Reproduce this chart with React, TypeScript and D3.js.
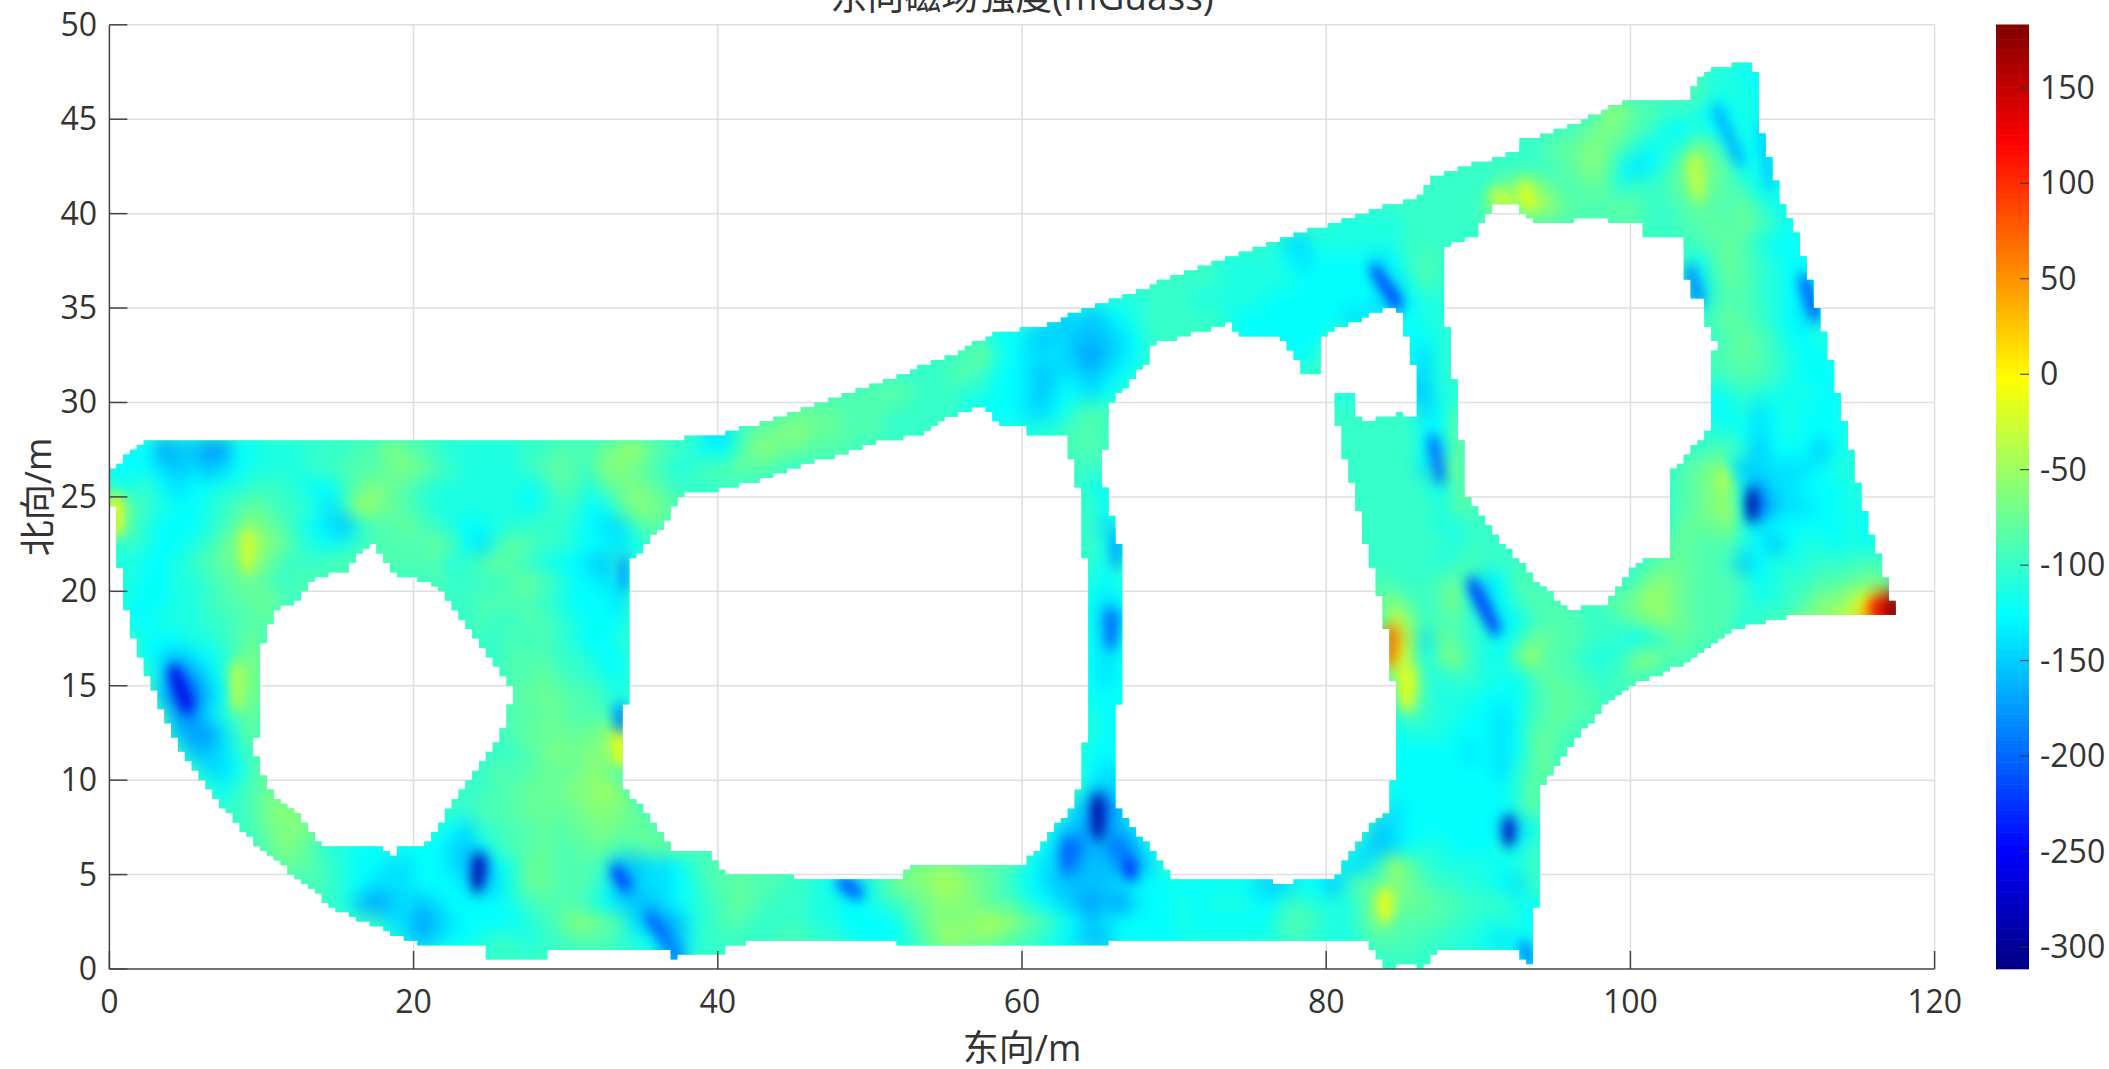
import React from "react";
import * as d3 from "d3";

const xTicks = [0, 20, 40, 60, 80, 100, 120];
const yTicks = [0, 5, 10, 15, 20, 25, 30, 35, 40, 45, 50];
const cTicks = [150, 100, 50, 0, -50, -100, -150, -200, -250, -300];
const cDomain = [-311.5, 183];
const title = "东向磁场强度(mGuass)";
const xLabel = "东向/m";
const yLabel = "北向/m";

// level letters used by the rows below, in mGauss
const levels: Record<string, number> = {
  a: -300, b: -270, c: -235, d: -205, e: -175, f: -155, g: -140, h: -125, i: -112, j: -100,
  k: -88, l: -76, m: -62, n: -45, o: -25, p: 0, q: 40, r: 90, s: 140, t: 180,
};

// values read per 1 m x 1 m cell, run-length coded, row index = northing of the cell's lower edge
const rows: Record<number, string> = {
  47: "105.2i2h",
  46: "103.2k3i3h",
  45: "98.2m2k2j1i1h1h1i2h",
  44: "95.jklmlkj2hihhihh",
  43: "91.3jk2lmlkihijmkihhhg",
  42: "87.8jklmlhghjlnlkhihg",
  41: "86.5jlmnl2klki2jklmlkjhih",
  40: "83.7jknmnnl3klk2jkl2kljh2i",
  39: "80.5i5j11k2j2klklkjhij",
  38: "77.2g6i4ji13.j2klki2hi",
  37: "73.4ihg4hghjkj16.hklkji2hi",
  36: "68.5j5i5hhgikj16.gjlkji2hh",
  35: "64.4i3j5i6hhgfh2i16.gj2kjihgh",
  34: "61.hfgfghi5ji6hh2g3h2i17.klkjihgih",
  33: "58.2hgfg3fghj5.6h5.2hi17.jklkj2h2i",
  32: "56.klih3gfefgh8.3h6.hgi17.2klkji2hi",
  31: "51.4j2kj2hgf2gfghi12.3i2.2gi17.j3kji3hi",
  30: "47.j3klk3j2i2hgf2hghi13.5igf2i16.hij2ihi2hi",
  29: "43.2k3l3k5ji3h2ghj2k15.5jghk16.2highi3hi",
  28: "39.2gj2l2m2l3k4j6iij2k16.5jhhl16.2ihghi3hi",
  27: "3he2fee2h3i3j2kmlkj5i2j3klmnlkji2hk2m2l3k3j11.3k15.5jhgkl14.j2kif3hfhi",
  26: "3hgfgfgh4i2j3klmlkj4ijklkj2mlkjij2kl2k2j16.3j15.6jgkl13.jklmifgggghii",
  25: "2ijhg2h2i3ji2hjlmlkj6ihi2kiklmlk6j20.jih16.5jhkl13.klmlhegghhhii",
  24: "nkjihhijklk2jigjnmlkj6ihi2j2hk2mlk26.jh16.5ji2k13.klmnhdfgghhih",
  23: "mki3hijlmlkihgfi2klkji2h2i3jih2gjlk27.jg16.5j2i2j12.3lmighh3hih",
  22: "ijihhijlmnmljihijkkkklkhgjlkjjihhgh29.jig16.5ji3j10.kl3kihfhiihih",
  21: "2i2hijk2lml3j8kijklkji2hgf30.ijh16.5jijkj10.k2l2kjfh3i3jk",
  20: "2i2h2ijk2lkj2k7.k4jklkj2hgh30.ihi16.k3jkligh2kj4.jk2ml3kjhi2j2k2lm",
  19: ".3h2ij2k2lk10.2j4kji3hg30.hgh16.lmkjkmifhj3k2jklmnml3kj2ijk2mnprt",
  18: ".2h3i2j2kl11.2jk2j2kji3h30.hff17.omj2kjighj3k2jkl2ml3kij2k2mnoqst",
  17: "2.3h2ijkl14.2jkjkji2hi30.hgh17.qnglkjihi2l2k2jihikl2k",
  16: "2.hgfghikm15.j3k2ji2h30.hgh17.pnhlmjihln2kj2ij2m2k",
  15: "3.gdegilm16.2klk2jih30.hgh17.moji2j2ihjl2k2j2k",
  14: "3.fddfhkm16.k3l2kji30.3h17.knj3i3hjkl2kj",
  13: "4.eegikl15.3k2l3kg30.i2h17.ikj2i2hghjkl2k",
  12: "4.feegjl15.jk5lmo30.i2h17.h3i3hghklk",
  11: "5.2fgik15.2jklmlmmn30.3h17.5hghghkl",
  10: "6.gghkl13.j3k3l2m31.h2g17.7hgikl",
  9: "7.hjk2l11.2j2k3l2mnm30.gfg17.8hil",
  8: "8.jk3m9.2j3k4l3ml28.gedfh16.gh5hhil",
  7: "9.kl2ml7.ihg2j2klk2lm3l26.gfeefgi14.fg6hgfh",
  6: "10.lmlk2i2hi3hgfhj2kl2k2l2k3lk22.hfdfedfh13.gfgh2i3hihj",
  5: "11.2lkji2h2g2hgfdhi2l3kjff2ghj6k7jl3m2l2khgfeffeeg10.2hggjnlj4ihi",
  4: "13.kjih3g3hgfgi2l3kiff2ghi2kl2k2jihfgjl2m2nmlkihgf3fg8hgfg2hfjlkmlk2j2ihg",
  3: "15.ifefgfg4hij3kjhgffghijklk3j2i2hijkl3ml2kihgfefeg2hih3i2h2j3iknm2l2k3jih",
  2: "18.2gefg4hijk2mlkgfefij2k4j2i4hjl3m2nmlkihfg4hi5hi2kj2ikm4k2j3ih",
  1: "19.gfg2hi2ji2j3kjihffi5j2k2ji3hikmn2mlkjihg2f5h6i2j3ij3k2j2ihghh",
  0: "24.5j7.2f46.4j4.2h",
};

// narrow streaks and spots seen in the picture: [east1, north1, east2, north2, value]
const streaks: [number, number, number, number, number][] = [
  [89.6, 20.4, 91.1, 18, -230], [83.2, 37, 84.7, 35.2, -225], [105.7, 45.5, 107.2, 42.8, -165], [108.6, 44.5, 109.2, 41.5, -150],
  [111.4, 36.5, 112.2, 34.6, -215], [103.9, 37, 104.5, 35.4, -185], [87, 28, 87.5, 26, -200], [65.85, 18.8, 65.85, 17.2, -205],
  [66.2, 23, 66.2, 21.5, -170], [92, 7.8, 92, 6.8, -285], [65, 9, 65, 7.2, -300], [108, 25.2, 108, 24, -295], [24.3, 5.8, 24.2, 4.4, -295],
  [33.3, 5.2, 34, 4.4, -230], [35.5, 2.8, 36.6, 1.6, -205], [37, 1.2, 37.2, 0.6, -195], [48.2, 4.6, 49.2, 4, -220], [4.2, 15.8, 5.2, 13.8, -265],
  [33.6, 13.7, 33.6, 12.8, -190], [33.8, 21.6, 33.8, 20.3, -175], [33.6, 12.2, 33.6, 11, -5], [84.2, 17.9, 84.2, 16.3, 70], [85.3, 15.6, 85.3, 14, -10],
  [83.9, 4, 83.9, 2.8, -5], [0.4, 24.8, 0.4, 23.2, 0], [9.1, 23, 9.1, 21.3, -20], [8.4, 16, 8.4, 14, -30], [104.1, 42.8, 104.5, 41, -30],
  [91, 41, 92, 40.6, -20], [93, 41.3, 93.4, 40.5, -10], [106, 26.4, 106.2, 25.4, -35], [93, 1.2, 93.4, 0.4, -195], [116.8, 19.2, 117.5, 18.95, 183],
  [116, 19.2, 116.6, 19, 130], [67, 5.6, 67.2, 5, -235], [63, 6.6, 63, 5.4, -205],
];

// outline of the surveyed area, and the building footprints inside it (east, north)
const outer: [number, number][] = [
  [0, 26.4], [2.2, 27.9], [37.9, 27.9], [37.9, 28.2], [40.4, 28.2], [40.6, 28.5], [43.2, 29], [47, 30], [51.5, 31.3],
  [55.9, 32.7], [58, 33.6], [61.4, 34.1], [63.8, 34.8], [68.8, 36.3], [74, 37.8], [80, 39.4], [82.7, 40.1], [86.1, 40.9],
  [87.1, 42], [92.5, 43.3], [92.6, 43.8], [96.9, 44.9], [98.6, 45.7], [99.7, 45.9], [103.7, 46], [104, 46.6], [105.3, 47.8],
  [106.6, 47.8], [106.6, 48], [107.8, 48], [108.3, 47.5], [108.3, 45.1], [109, 43.3], [110, 40.5], [111, 38.9], [111.9, 36.2],
  [112.9, 33.2], [113.7, 30.3], [115.2, 25], [115.8, 23.3], [116.6, 21.3], [117, 20], [117.3, 19.5], [117.5, 19.2], [117.5, 18.7],
  [110.5, 18.7], [110.3, 18.5], [108.1, 18.3], [107.1, 18], [105.4, 17.3], [103.6, 16.2], [101.7, 15.5], [100, 15], [98.6, 14.2],
  [96.3, 12], [94.4, 10], [93.9, 9.3], [93.9, 3.2], [93.6, 3], [93.6, 1.1], [93.4, 0.3], [93.1, 0.3], [92.6, 1.1], [91.9, 0.9],
  [87.1, 0.9], [86.3, 0], [86, 0], [85.6, 0.2], [84.6, 0.2], [84.2, 0], [83.9, 0], [82.7, 1.5], [65.7, 1.5], [65.7, 1.2], [51.6, 1.2],
  [51.6, 1.5], [41.8, 1.5], [41.8, 1.2], [40.4, 1.2], [40.4, 0.86], [37.4, 0.86], [37.4, 0.58], [37, 0.58], [36.7, 0.9], [28.8, 0.9],
  [28.8, 0.6], [24.9, 0.6], [24.5, 1.2], [21.3, 1.2], [19.8, 1.5], [18.6, 1.9], [16.6, 2.5], [14.8, 3.2], [11.9, 5.1], [9.2, 6.9],
  [6.9, 9.1], [4.5, 11.8], [2.8, 14.9], [1.3, 18.2], [0.6, 21.7], [0.15, 25.2],
];
const holeA: [number, number][] = [
  [17.2, 22.6], [15.4, 21], [13.5, 20.8], [12.2, 19.3], [11.2, 19.2], [10.7, 18.4], [10, 17.1], [9.8, 13.3], [9.6, 11.5], [10.3, 10],
  [10.7, 9.1], [12.2, 8.4], [13.8, 6.6], [18, 6.6], [18.6, 6], [19.2, 6.6], [20.7, 6.6], [24.5, 10.9], [25.7, 12.4], [26.4, 14.2],
  [26.4, 14.9], [21.9, 19.9], [20.1, 20.8], [18.9, 20.8],
];
const holeB: [number, number][] = [
  [37.7, 25.1], [38.8, 25.2], [41, 25.5], [43.2, 26], [45.6, 26.7], [48.2, 27.2], [50.6, 27.9], [53.2, 28.3], [54.7, 29], [56.7, 29.7],
  [57.6, 29.7], [58.4, 28.8], [60.1, 28.8], [60.4, 28.2], [63, 28.2], [63.2, 27.2], [63.8, 24.9], [63.9, 22.8], [64.5, 20], [64.5, 14.2],
  [64.2, 12.4], [63.9, 10.7], [63.6, 9.1], [63.1, 8.4], [60, 5.4], [52.5, 5.4], [52.2, 4.8], [45, 4.8], [45, 5.1], [40.4, 5.1], [39.4, 6.3],
  [37.1, 6.3], [35.1, 8.5], [33.6, 9.7], [33.6, 11.6], [33.9, 13.5], [34.2, 15.1], [34.2, 21.5], [34.8, 22], [36.2, 23.3],
];
const holeC: [number, number][] = [
  [65.1, 27.2], [65.7, 27.6], [65.7, 29.8], [68.4, 32.3], [68.5, 33], [72, 33.8], [73.5, 34.2], [74.2, 33.6], [76.9, 33.6], [78.6, 31.5],
  [79.8, 31.5], [79.6, 32.9], [80, 33.6], [82.2, 34.4], [83.7, 34.9], [84.7, 35], [85.2, 33.8], [85.6, 32.4], [85.9, 31.2], [85.9, 29.1],
  [84.7, 29.6], [84.2, 29.1], [83.6, 29.4], [83.1, 29.1], [82.2, 29.1], [81.7, 30.5], [80.5, 30.6], [80.5, 29.8], [81.2, 27.2], [82.4, 23.4],
  [82.5, 22.8], [83.4, 20.1], [83.9, 18.2], [84.4, 15.1], [84.4, 10.2], [84.1, 8.2], [83.4, 8.1], [80.5, 4.8], [78, 4.8], [78, 4.5], [76.3, 4.5],
  [76.3, 4.8], [69.7, 4.8], [69.5, 5.4], [66.3, 8.5], [66.3, 11.9], [66.6, 20], [66.6, 21.7], [66.2, 23], [65.4, 25.7],
];
const holeD: [number, number][] = [
  [88, 38.4], [89.7, 38.7], [91, 40.4], [92.5, 40.5], [93.7, 39.4], [96.3, 39.4], [96.5, 39.7], [98.3, 39.9], [98.8, 39.4], [100, 39.4],
  [100.5, 39.9], [100.8, 38.7], [103.6, 38.7], [103.6, 37.8], [103.4, 37.3], [104.2, 35.4], [104.7, 35.4], [105.1, 33.8], [105.6, 33.2],
  [105.6, 32.7], [105.1, 32.7], [105.1, 28.5], [102.7, 26.3], [102.7, 22.8], [102.6, 21.7], [101.2, 21.7], [100.2, 21.4], [98.6, 19.6],
  [98.3, 19.3], [97, 19.2], [96.1, 19], [94.4, 20.1], [90.8, 23.3], [89.7, 24.7], [89.3, 25], [88.8, 28.4], [88.3, 32.1], [87.8, 34.9], [87.6, 35.6],
];
const holes = [holeA, holeB, holeC, holeD];

const W = 2109, H = 1069;
const plot = { left: 109.4, right: 1934.6, top: 24.8, bottom: 969 };
const bar = { left: 1996, right: 2029 };
const FONT = "'Open Sans','Noto Sans CJK SC',sans-serif";
const INK = "#333333";
const GRID = "#dfdfdf";

const x = d3.scaleLinear().domain([0, 120]).range([plot.left, plot.right]);
const y = d3.scaleLinear().domain([0, 50]).range([plot.bottom, plot.top]);
const cy = d3.scaleLinear().domain(cDomain).range([plot.bottom, plot.top]);
const jetStops = [0, 0.125, 0.375, 0.625, 0.875, 1];
const jetColors = ["#000080", "#0000ff", "#00ffff", "#ffff00", "#ff0000", "#800000"];
const color = d3
  .scaleLinear<string>()
  .domain(jetStops.map((t) => cDomain[0] + t * (cDomain[1] - cDomain[0])))
  .range(jetColors)
  .clamp(true);

function decode(row: string): (number | null)[] {
  const out: (number | null)[] = [];
  for (const m of row.matchAll(/(\d*)([a-t.])/g)) {
    const n = m[1] ? +m[1] : 1;
    for (let i = 0; i < n; i++) out.push(m[2] === "." ? null : levels[m[2]]);
  }
  return out;
}

const cells: { e: number; n: number; v: number }[] = [];
Object.entries(rows).forEach(([n, row]) => {
  decode(row).forEach((v, e) => {
    if (v !== null) cells.push({ e, n: +n, v });
  });
});

const inside = (p: [number, number]) =>
  d3.polygonContains(outer, p) && !holes.some((h) => d3.polygonContains(h, p));

function maskPath(): string {
  const dx = 0.45, dy = 0.25;
  let d = "";
  for (let j = 0; j * dy < 48.3; j++) {
    let start = -1;
    for (let i = 0; i * dx <= 118.2; i++) {
      const on = inside([(i + 0.5) * dx, (j + 0.5) * dy]);
      if (on && start < 0) start = i;
      if (!on && start >= 0) {
        d += `M${x(start * dx)},${y(j * dy)}H${x(i * dx)}V${y((j + 1) * dy)}H${x(start * dx)}Z`;
        start = -1;
      }
    }
  }
  return d;
}

const barSteps = d3.range(256).map((i) => cDomain[0] + ((i + 0.5) / 256) * (cDomain[1] - cDomain[0]));
const barStepH = (plot.bottom - plot.top) / 256;

export default function App() {
  const mask = React.useMemo(maskPath, []);
  const tick = { fontFamily: FONT, fontSize: 32, fill: INK };
  return (
    <svg
      width={W}
      height={H}
      viewBox={`0 0 ${W} ${H}`}
      style={{ position: "fixed", left: 0, top: 0, display: "block", background: "#fff" }}
    >
      <defs>
        <clipPath id="area">
          <path d={mask} />
        </clipPath>
        <filter id="soft" filterUnits="userSpaceOnUse" x={0} y={0} width={W} height={H} colorInterpolationFilters="sRGB">
          <feGaussianBlur stdDeviation="8 9" />
        </filter>
        <filter id="softer" filterUnits="userSpaceOnUse" x={0} y={0} width={W} height={H} colorInterpolationFilters="sRGB">
          <feGaussianBlur stdDeviation="6 7" />
        </filter>
      </defs>

      <g stroke={GRID} strokeWidth={1.5}>
        {xTicks.filter((t) => t > 0).map((t) => (
          <line key={t} x1={x(t)} x2={x(t)} y1={plot.top} y2={plot.bottom} />
        ))}
        {yTicks.filter((t) => t > 0).map((t) => (
          <line key={t} x1={plot.left} x2={plot.right} y1={y(t)} y2={y(t)} />
        ))}
      </g>

      <g clipPath="url(#area)">
        <rect x={plot.left} y={plot.top} width={plot.right - plot.left} height={plot.bottom - plot.top} fill={color(-100)} />
        <g filter="url(#soft)">
          {cells.map((c) => (
            <rect
              key={`${c.e}-${c.n}`}
              x={x(c.e)}
              y={y(c.n + 1)}
              width={x(c.e + 1) - x(c.e) + 0.5}
              height={y(c.n) - y(c.n + 1) + 0.5}
              fill={color(c.v)}
            />
          ))}
        </g>
        <g filter="url(#softer)" fill="none" strokeLinecap="round" strokeWidth={11}>
          {streaks.map((s, i) => (
            <line key={i} x1={x(s[0])} y1={y(s[1])} x2={x(s[2])} y2={y(s[3])} stroke={color(s[4])} />
          ))}
        </g>
      </g>

      <g stroke="#444" strokeWidth={1.5} fill="none">
        <line x1={plot.left} x2={plot.left} y1={plot.top} y2={plot.bottom} />
        <line x1={plot.left} x2={plot.right} y1={plot.bottom} y2={plot.bottom} />
        {xTicks.map((t) => (
          <line key={t} x1={x(t)} x2={x(t)} y1={plot.bottom} y2={plot.bottom - 18} />
        ))}
        {yTicks.map((t) => (
          <line key={t} x1={plot.left} x2={plot.left + 18} y1={y(t)} y2={y(t)} />
        ))}
      </g>

      {xTicks.map((t) => (
        <text key={t} x={x(t)} y={1013} textAnchor="middle" {...tick}>{t}</text>
      ))}
      {yTicks.map((t) => (
        <text key={t} x={97} y={y(t) + 11} textAnchor="end" {...tick}>{t}</text>
      ))}

      <text x={1022} y={1061} textAnchor="middle" fontFamily={FONT} fontSize={36} fill={INK}>{xLabel}</text>
      <text transform="translate(51,497) rotate(-90)" textAnchor="middle" fontFamily={FONT} fontSize={36} fill={INK}>{yLabel}</text>
      <text x={1022} y={10} textAnchor="middle" fontFamily={FONT} fontSize={37} fill={INK}>{title}</text>

      {barSteps.map((v, i) => (
        <rect
          key={i}
          x={bar.left}
          y={cy(v) - barStepH / 2 - 0.3}
          width={bar.right - bar.left}
          height={barStepH + 0.6}
          fill={color(v)}
        />
      ))}
      <g stroke="#333" strokeWidth={1}>
        {cTicks.map((t) => (
          <line key={t} x1={bar.right - 9} x2={bar.right} y1={cy(t)} y2={cy(t)} />
        ))}
      </g>
      {cTicks.map((t) => (
        <text key={t} x={2040} y={cy(t) + 11} {...tick}>{t}</text>
      ))}
    </svg>
  );
}
